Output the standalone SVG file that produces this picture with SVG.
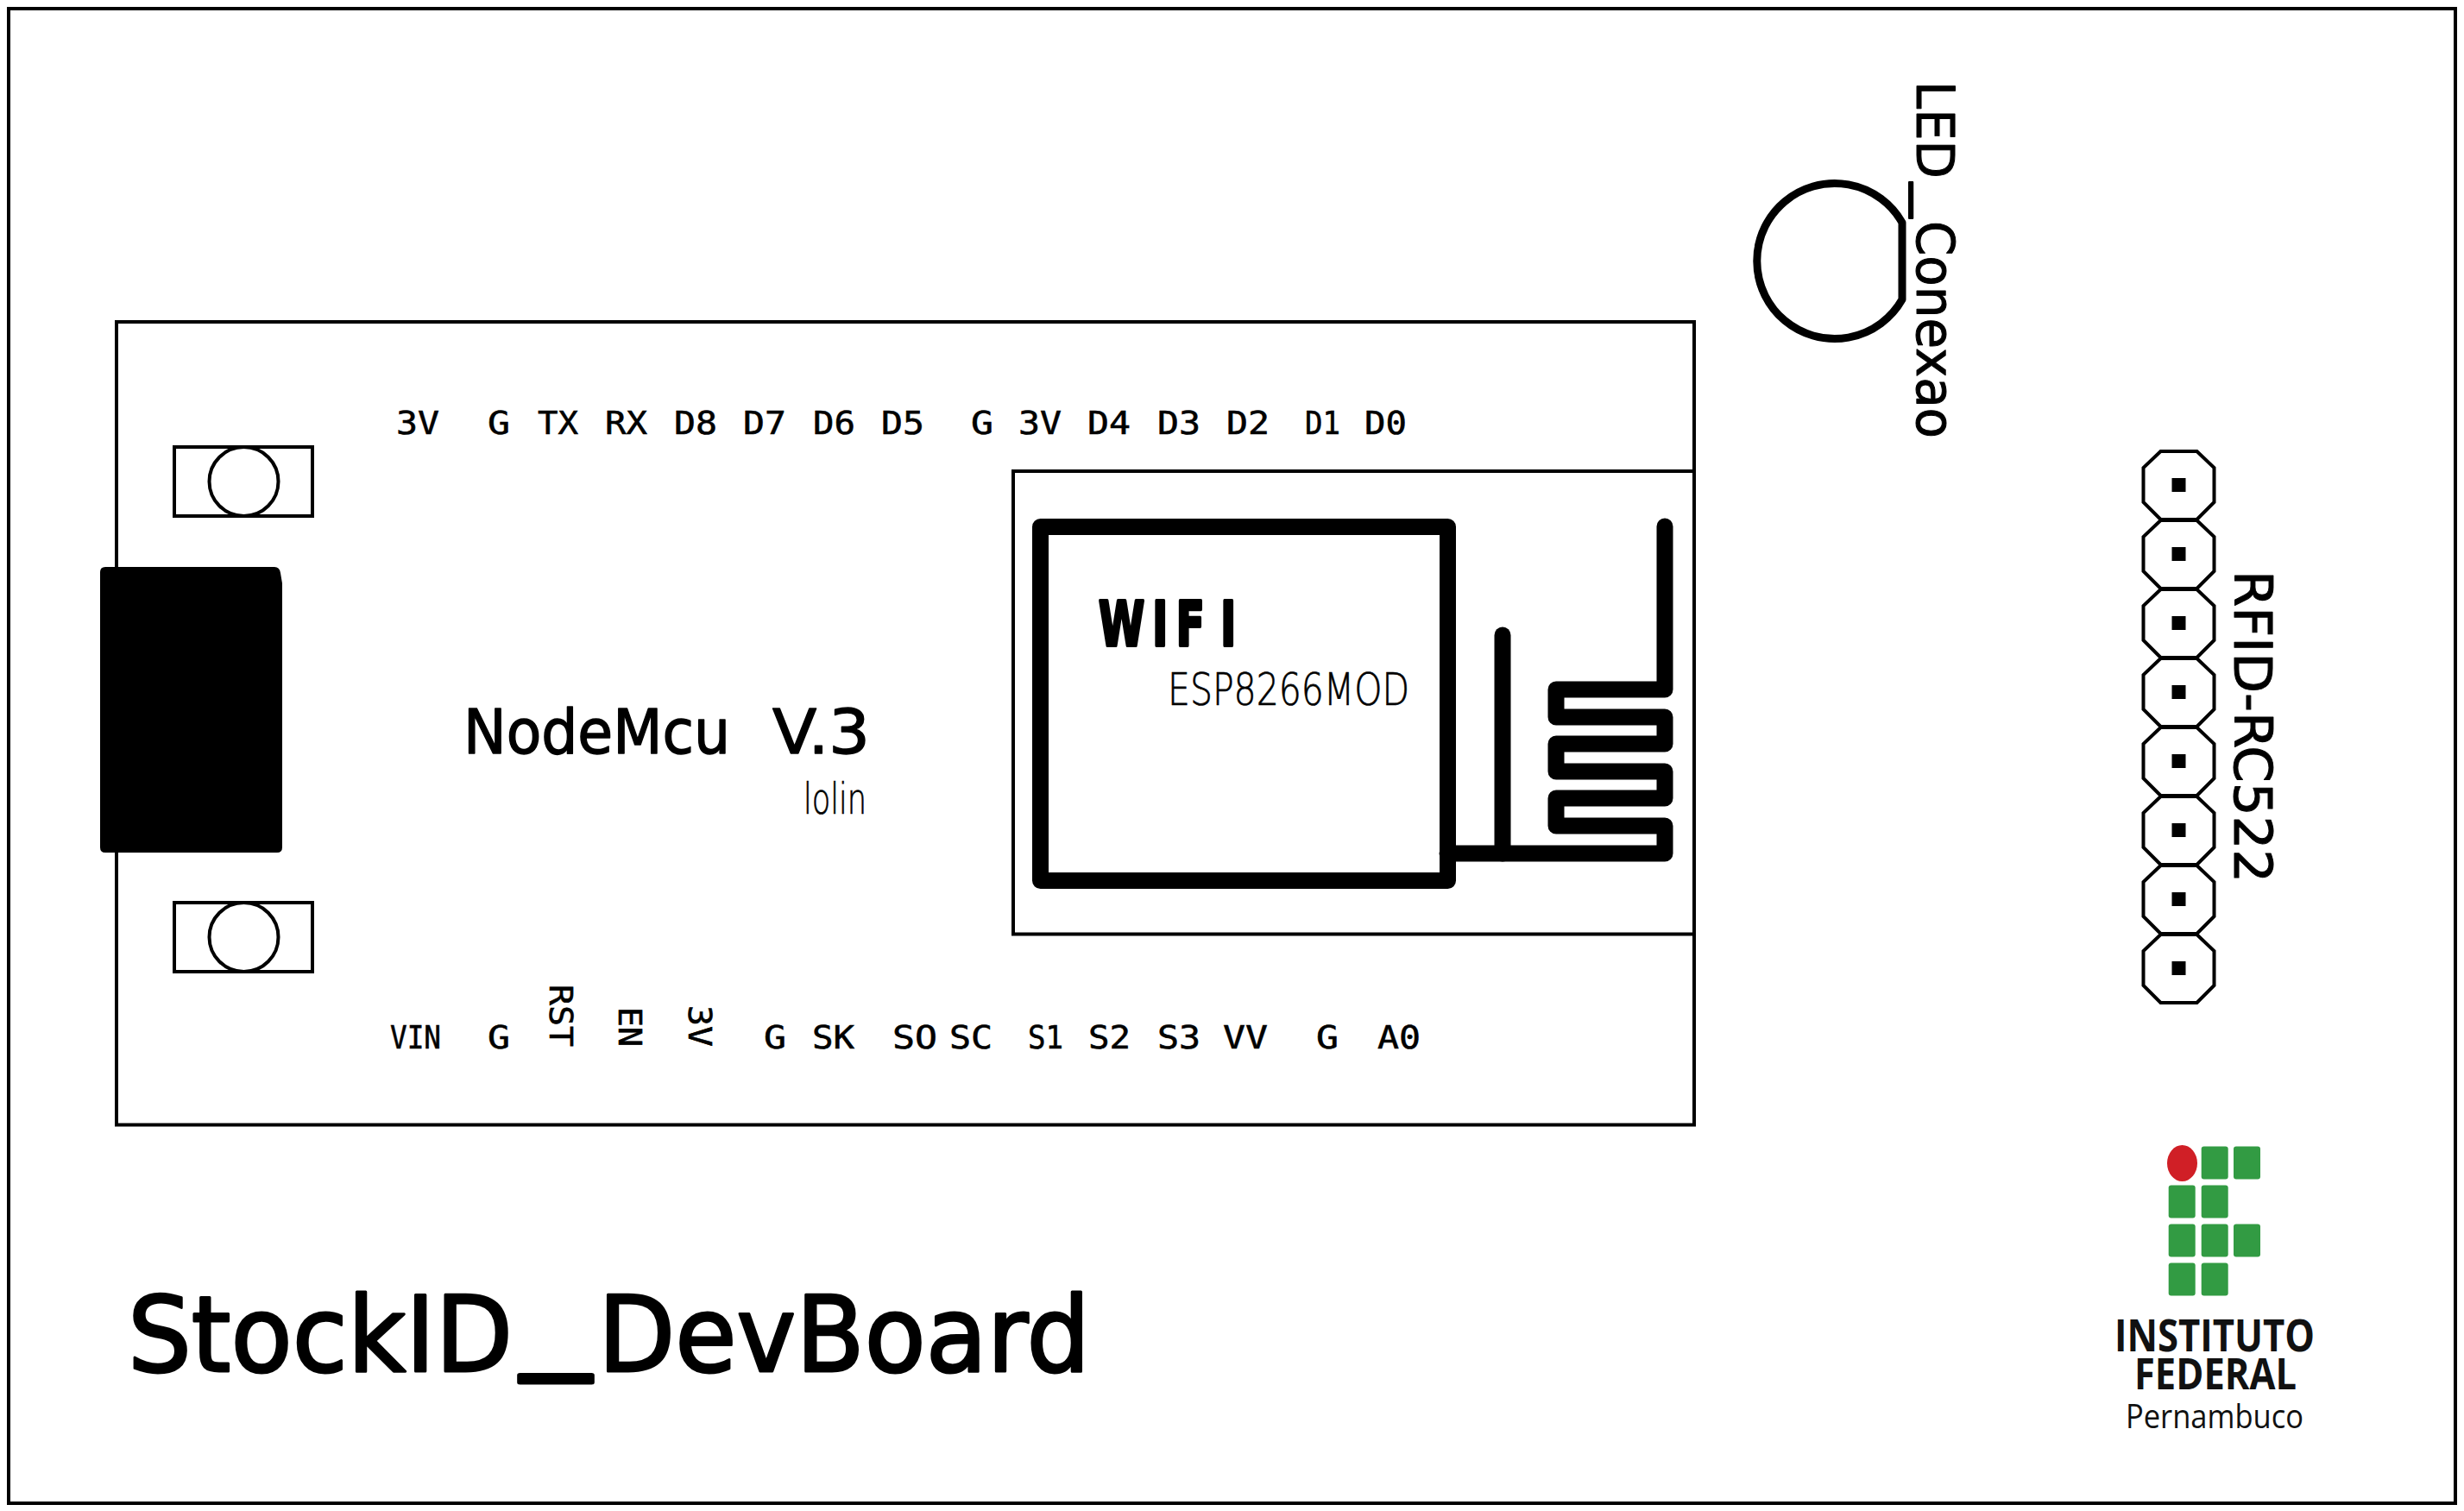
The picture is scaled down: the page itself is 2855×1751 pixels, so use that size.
<svg xmlns="http://www.w3.org/2000/svg" width="2855" height="1751" viewBox="0 0 2855 1751">
<style>
.ln{fill:none;stroke:#000;stroke-width:4}
.cu{fill:none;stroke:#000;stroke-width:19;stroke-linejoin:round;stroke-linecap:round}
.pin{font-family:"DejaVu Sans Mono",monospace;font-size:38px;fill:#000;stroke:#000;stroke-width:.6}
.big{font-family:"DejaVu Sans",sans-serif;fill:#000;stroke:#000;stroke-linejoin:round}
.thin{font-family:"DejaVu Sans ExtraLight","DejaVu Sans",sans-serif;font-weight:200;fill:#000;stroke:#000;stroke-width:.7}
.logo{font-family:"Open Sans",sans-serif;fill:#111}
.g{fill:#329b43}
.oct{fill:none;stroke:#000;stroke-width:4}
</style>
<defs>
<g id="hdr"><polygon class="oct" points="-21,-39 21,-39 41,-20 41,20 21,40 -21,40 -41,20 -41,-20"/><rect x="-8" y="-8" width="16" height="16"/></g>
<g id="mount"><rect class="ln" x="202" y="518" width="160" height="80"/><circle class="ln" cx="282.500" cy="558" r="40"/></g>
</defs>
<rect width="2855" height="1751" fill="#fff"/>
<rect id="border" class="ln" x="10" y="10" width="2835" height="1732"/>
<g id="board">
<rect class="ln" x="135" y="373" width="1828" height="930.500"/>
<path d="M122 657H318Q324 657 325 664L327 676V982Q327 988 321 988H122Q116 988 116 982V663Q116 657 122 657Z"/>
<use href="#mount"/>
<use href="#mount" y="528"/>
</g>
<g id="esp">
<rect class="ln" x="1174" y="546" width="789" height="536.500"/>
<rect class="cu" x="1205.500" y="610.500" width="472" height="410"/>
<path class="cu" d="M1929 610V799H1803V831H1929V862H1803V894H1929V925H1803V957H1929V989H1677"/>
<path class="cu" d="M1741 736V989"/>
<text class="big" transform="translate(1273 748) scale(.67 1)" x="0 93 134 211" y="0" font-size="72" font-weight="700" stroke-width="4">WIFI</text>
<text class="thin" x="1353" y="817" font-size="52" textLength="280" lengthAdjust="spacingAndGlyphs">ESP8266MOD</text>
</g>
<g id="title-node">
<text class="big" x="537" y="873" font-size="72" stroke-width="1.500" textLength="309" lengthAdjust="spacingAndGlyphs">NodeMcu</text>
<text class="big" x="895" y="873" font-size="72" stroke-width="1.500" textLength="113" lengthAdjust="spacingAndGlyphs">V.3</text>
<text class="thin" x="931" y="943" font-size="49" textLength="73" lengthAdjust="spacingAndGlyphs">lolin</text>
</g>
<g id="pins-top">
<text class="pin" x="459" y="503" textLength="50" lengthAdjust="spacingAndGlyphs">3V</text>
<text class="pin" x="565" y="503" textLength="26" lengthAdjust="spacingAndGlyphs">G</text>
<text class="pin" x="623" y="503" textLength="47" lengthAdjust="spacingAndGlyphs">TX</text>
<text class="pin" x="701" y="503" textLength="49" lengthAdjust="spacingAndGlyphs">RX</text>
<text class="pin" x="781" y="503" textLength="50" lengthAdjust="spacingAndGlyphs">D8</text>
<text class="pin" x="861" y="503" textLength="50" lengthAdjust="spacingAndGlyphs">D7</text>
<text class="pin" x="942" y="503" textLength="49" lengthAdjust="spacingAndGlyphs">D6</text>
<text class="pin" x="1021" y="503" textLength="50" lengthAdjust="spacingAndGlyphs">D5</text>
<text class="pin" x="1125" y="503" textLength="26" lengthAdjust="spacingAndGlyphs">G</text>
<text class="pin" x="1180" y="503" textLength="50" lengthAdjust="spacingAndGlyphs">3V</text>
<text class="pin" x="1260" y="503" textLength="50" lengthAdjust="spacingAndGlyphs">D4</text>
<text class="pin" x="1341" y="503" textLength="50" lengthAdjust="spacingAndGlyphs">D3</text>
<text class="pin" x="1421" y="503" textLength="50" lengthAdjust="spacingAndGlyphs">D2</text>
<text class="pin" x="1512" y="503" textLength="41" lengthAdjust="spacingAndGlyphs">D1</text>
<text class="pin" x="1581" y="503" textLength="49" lengthAdjust="spacingAndGlyphs">D0</text>
</g>
<g id="pins-bottom">
<text class="pin" x="452" y="1215" textLength="59" lengthAdjust="spacingAndGlyphs">VIN</text>
<text class="pin" x="565" y="1215" textLength="26" lengthAdjust="spacingAndGlyphs">G</text>
<text class="pin" transform="translate(637 1141) rotate(90)" textLength="72" lengthAdjust="spacingAndGlyphs">RST</text>
<text class="pin" transform="translate(717 1167) rotate(90)" textLength="46" lengthAdjust="spacingAndGlyphs">EN</text>
<text class="pin" transform="translate(798 1165) rotate(90)" textLength="48" lengthAdjust="spacingAndGlyphs">3V</text>
<text class="pin" x="885" y="1215" textLength="26" lengthAdjust="spacingAndGlyphs">G</text>
<text class="pin" x="941" y="1215" textLength="49" lengthAdjust="spacingAndGlyphs">SK</text>
<text class="pin" x="1034" y="1215" textLength="52" lengthAdjust="spacingAndGlyphs">SO</text>
<text class="pin" x="1100" y="1215" textLength="50" lengthAdjust="spacingAndGlyphs">SC</text>
<text class="pin" x="1191" y="1215" textLength="41" lengthAdjust="spacingAndGlyphs">S1</text>
<text class="pin" x="1261" y="1215" textLength="49" lengthAdjust="spacingAndGlyphs">S2</text>
<text class="pin" x="1341" y="1215" textLength="50" lengthAdjust="spacingAndGlyphs">S3</text>
<text class="pin" x="1417" y="1215" textLength="52" lengthAdjust="spacingAndGlyphs">VV</text>
<text class="pin" x="1525" y="1215" textLength="26" lengthAdjust="spacingAndGlyphs">G</text>
<text class="pin" x="1596" y="1215" textLength="50" lengthAdjust="spacingAndGlyphs">A0</text>
</g>
<g id="led">
<path d="M2204 258A90 90 0 1 0 2204 347Z" fill="none" stroke="#000" stroke-width="9" stroke-linejoin="round"/>
<text class="big" transform="translate(2221 95) rotate(90)" font-size="60" stroke-width="1"><tspan x="-1" y="0" textLength="113" lengthAdjust="spacingAndGlyphs">LED</tspan><tspan x="117" y="-5" stroke-width="2" textLength="40" lengthAdjust="spacingAndGlyphs">_</tspan><tspan x="161" y="0" textLength="252" lengthAdjust="spacingAndGlyphs">Conexao</tspan></text>
</g>
<g id="rfid">
<use href="#hdr" x="2524.500" y="562"/>
<use href="#hdr" x="2524.500" y="642"/>
<use href="#hdr" x="2524.500" y="722"/>
<use href="#hdr" x="2524.500" y="802"/>
<use href="#hdr" x="2524.500" y="882"/>
<use href="#hdr" x="2524.500" y="962"/>
<use href="#hdr" x="2524.500" y="1042"/>
<use href="#hdr" x="2524.500" y="1122"/>
<text class="big" transform="translate(2589 661) rotate(90)" font-size="60" stroke-width="1" textLength="362" lengthAdjust="spacingAndGlyphs">RFID-RC522</text>
</g>
<text id="title" class="big" font-size="122" stroke-width="3"><tspan x="148" y="1589" textLength="446" lengthAdjust="spacingAndGlyphs">StockID</tspan><tspan x="604" y="1573" stroke-width="5" textLength="80" lengthAdjust="spacingAndGlyphs">_</tspan><tspan x="693" y="1589" textLength="570" lengthAdjust="spacingAndGlyphs">DevBoard</tspan></text>
<g id="logo">
<ellipse cx="2528.500" cy="1348" rx="17.500" ry="21" fill="#d01f26"/>
<rect class="g" x="2550.700" y="1328.500" width="31" height="38" rx="3"/>
<rect class="g" x="2588" y="1328.500" width="31" height="38" rx="3"/>
<rect class="g" x="2512.700" y="1373.500" width="31" height="38" rx="3"/>
<rect class="g" x="2550.700" y="1373.500" width="31" height="38" rx="3"/>
<rect class="g" x="2512.700" y="1418.500" width="31" height="38" rx="3"/>
<rect class="g" x="2550.700" y="1418.500" width="31" height="38" rx="3"/>
<rect class="g" x="2588" y="1418.500" width="31" height="38" rx="3"/>
<rect class="g" x="2512.700" y="1463.500" width="31" height="38" rx="3"/>
<rect class="g" x="2550.700" y="1463.500" width="31" height="38" rx="3"/>
<text class="logo" x="2450" y="1566" font-size="52" font-weight="700" textLength="232" lengthAdjust="spacingAndGlyphs">INSTITUTO</text>
<text class="logo" x="2473" y="1610" font-size="50" font-weight="700" textLength="188" lengthAdjust="spacingAndGlyphs">FEDERAL</text>
<text class="logo" x="2463" y="1655" font-size="39" textLength="206" lengthAdjust="spacingAndGlyphs">Pernambuco</text>
</g>
</svg>
